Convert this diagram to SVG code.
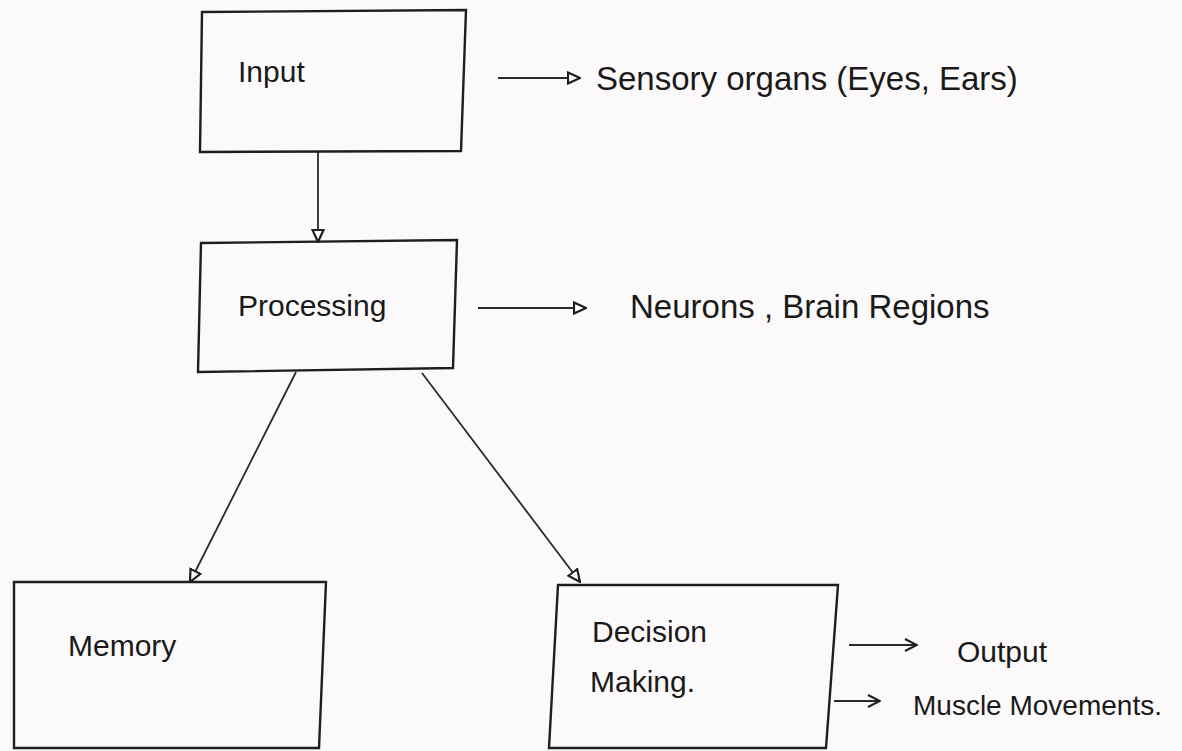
<svg xmlns="http://www.w3.org/2000/svg" width="1182" height="751" viewBox="0 0 1182 751">
  <defs>
    <style>
      .box { fill: none; stroke: #1e1e1e; stroke-width: 2.4; stroke-linejoin: miter; }
      .edge { fill: none; stroke: #2a2a2a; stroke-width: 1.8; }
      .lbl { font-family: "Liberation Sans", Arial, sans-serif; font-size: 30px; fill: #1a1a1a; }
      .big { font-size: 33px; }
      .small { font-size: 28px; }
    </style>
    <marker id="tri" viewBox="0 0 14 14" refX="13" refY="7" markerWidth="14" markerHeight="14" markerUnits="userSpaceOnUse" orient="auto">
      <path d="M1,1.5 L13,7 L1,12.5 Z" fill="#ffffff" stroke="#1e1e1e" stroke-width="2.2"/>
    </marker>
    <marker id="chev" viewBox="0 0 16 16" refX="15" refY="8" markerWidth="16" markerHeight="16" markerUnits="userSpaceOnUse" orient="auto">
      <path d="M3,2 L15,8 L3,14" fill="none" stroke="#1e1e1e" stroke-width="2"/>
    </marker>
  </defs>

  <rect width="1182" height="751" fill="#fcf9fb"/>

  <!-- connectors -->
  <g id="connectors">
    <line class="edge" x1="318" y1="152" x2="318" y2="242" marker-end="url(#tri)"/>
    <line class="edge" x1="498" y1="78" x2="580" y2="78" marker-end="url(#tri)"/>
    <line class="edge" x1="478" y1="308" x2="586" y2="308" marker-end="url(#tri)"/>
    <line class="edge" x1="296" y1="372" x2="190" y2="582" marker-end="url(#tri)"/>
    <line class="edge" x1="422" y1="373" x2="580" y2="582" marker-end="url(#tri)"/>
    <line class="edge" x1="849" y1="645" x2="917" y2="645" marker-end="url(#chev)"/>
    <line class="edge" x1="834" y1="701" x2="880" y2="701" marker-end="url(#chev)"/>
  </g>

  <!-- nodes -->
  <g id="input">
    <polygon class="box" points="202,12 466,10 461,151 200,152"/>
    <text class="lbl" x="238" y="82">Input</text>
  </g>

  <g id="sensory">
    <text class="lbl big" x="596" y="90">Sensory organs (Eyes, Ears)</text>
  </g>

  <g id="processing">
    <polygon class="box" points="201,243 457,240 453,368 198,372"/>
    <text class="lbl" x="238" y="316">Processing</text>
  </g>

  <g id="neurons">
    <text class="lbl big" x="630" y="318">Neurons , Brain Regions</text>
  </g>

  <g id="memory">
    <polygon class="box" points="14,582 326,582 319,748 14,748"/>
    <text class="lbl" x="68" y="656">Memory</text>
  </g>

  <g id="decision">
    <polygon class="box" points="558,585 838,585 826,748 549,748"/>
    <text class="lbl" x="592" y="642">Decision</text>
    <text class="lbl" x="590" y="692">Making.</text>
  </g>

  <g id="output">
    <text class="lbl" x="957" y="662">Output</text>
  </g>

  <g id="muscle">
    <text class="lbl small" x="913" y="715">Muscle Movements.</text>
  </g>
</svg>
